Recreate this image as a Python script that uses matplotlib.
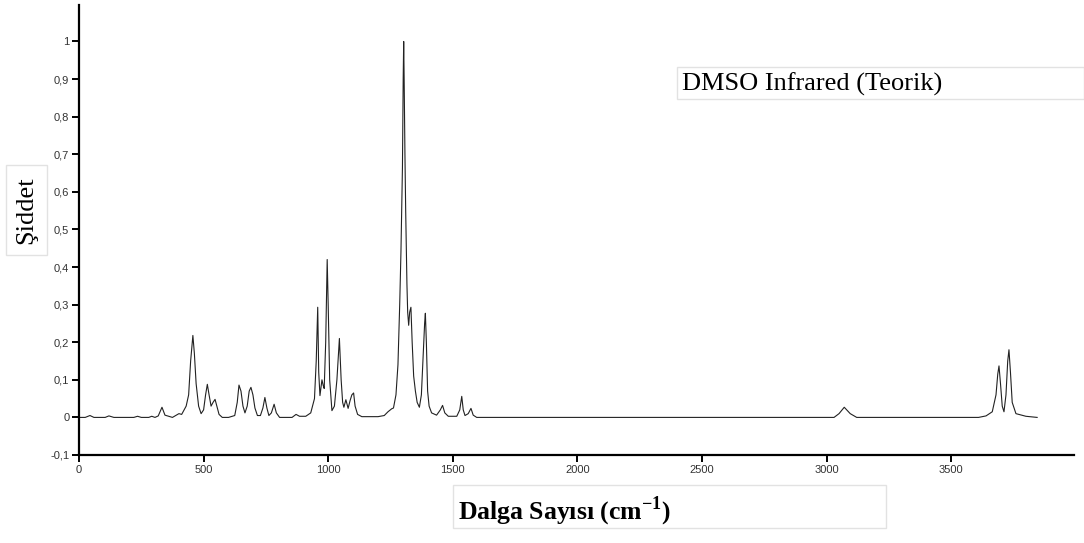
import matplotlib.pyplot as plt
from matplotlib.patches import Rectangle

plt.rcParams['mathtext.fontset'] = 'custom'
plt.rcParams['mathtext.rm'] = 'Liberation Serif'
plt.rcParams['mathtext.bf'] = 'Liberation Serif:bold'

# spectrum vertices (cm-1, relative intensity)
wavenumber = [0, 25, 44, 60, 105, 120, 140, 220, 235, 250, 280, 292, 305, 318, 333, 345,
              375, 401, 412, 430, 440, 448, 457, 463, 470, 480, 490, 500, 508, 515, 522,
              530, 538, 546, 553, 562, 575, 600, 625, 635, 642, 650, 658, 666, 675, 683,
              690, 698, 706, 716, 728, 738, 746, 754, 762, 772, 783, 792, 805, 855, 871,
              885, 910, 930, 945, 952, 958, 962, 967, 975, 980, 984, 990, 996, 1000, 1006,
              1015, 1025, 1035, 1045, 1052, 1058, 1063, 1071, 1080, 1088, 1095, 1102, 1108,
              1118, 1135, 1200, 1225, 1240, 1255, 1262, 1272, 1280, 1287, 1292, 1298, 1301,
              1303, 1305, 1308, 1311, 1316, 1319, 1323, 1327, 1332, 1337, 1343, 1350, 1357,
              1366, 1374, 1382, 1387, 1390, 1394, 1399, 1405, 1415, 1435, 1450, 1459, 1468,
              1482, 1516, 1528, 1536, 1542, 1549, 1562, 1573, 1582, 1596, 3030, 3050, 3071,
              3095, 3121, 3610, 3640, 3665, 3680, 3687, 3692, 3698, 3705, 3712, 3720, 3727,
              3732, 3738, 3745, 3760, 3800, 3845]
intensity = [0.0, 0.0, 0.005, 0.0, 0.0, 0.004, 0.0, 0.0, 0.003, 0.0, 0.0, 0.003, 0.0, 0.004,
             0.027, 0.006, 0.0, 0.01, 0.008, 0.03, 0.06, 0.15, 0.218, 0.17, 0.09, 0.03, 0.01,
             0.02, 0.06, 0.088, 0.06, 0.03, 0.04, 0.048, 0.03, 0.008, 0.0, 0.0, 0.005, 0.04,
             0.086, 0.07, 0.03, 0.012, 0.03, 0.07, 0.08, 0.06, 0.025, 0.005, 0.005, 0.025,
             0.053, 0.025, 0.005, 0.012, 0.035, 0.012, 0.0, 0.0, 0.008, 0.003, 0.003, 0.012,
             0.05, 0.15, 0.293, 0.12, 0.058, 0.1, 0.085, 0.077, 0.2, 0.42, 0.3, 0.1, 0.018,
             0.03, 0.1, 0.21, 0.1, 0.04, 0.027, 0.047, 0.024, 0.045, 0.06, 0.065, 0.03, 0.008,
             0.002, 0.002, 0.005, 0.015, 0.023, 0.025, 0.06, 0.14, 0.3, 0.44, 0.665, 0.9, 1.0,
             0.89, 0.7, 0.55, 0.355, 0.28, 0.245, 0.28, 0.293, 0.2, 0.11, 0.07, 0.04, 0.027,
             0.06, 0.18, 0.25, 0.277, 0.2, 0.07, 0.03, 0.012, 0.006, 0.02, 0.032, 0.012, 0.003,
             0.003, 0.02, 0.056, 0.02, 0.005, 0.01, 0.024, 0.006, 0.0, 0.0, 0.01, 0.027, 0.01,
             0.0, 0.0, 0.004, 0.015, 0.06, 0.115, 0.137, 0.09, 0.03, 0.015, 0.06, 0.15, 0.18,
             0.12, 0.04, 0.01, 0.003, 0.0]

x_ticks = [0, 500, 1000, 1500, 2000, 2500, 3000, 3500]
y_ticks = [-0.1, 0, 0.1, 0.2, 0.3, 0.4, 0.5, 0.6, 0.7, 0.8, 0.9, 1]
y_tick_labels = ['-0,1', '0', '0,1', '0,2', '0,3', '0,4', '0,5', '0,6', '0,7', '0,8', '0,9', '1']

W, H = 1084, 543


def add_box(fig, x0, y0, x1, y1):
    # light grey frame given in pixels, top-left origin
    fig.patches.append(Rectangle((x0 / W, 1 - y1 / H), (x1 - x0) / W, (y1 - y0) / H,
                                 transform=fig.transFigure, fill=False,
                                 ec='#e2e2e2', lw=1))


fig = plt.figure(figsize=(W / 100, H / 100), dpi=100)
ax = fig.add_axes([79 / W, 1 - 455 / H, (1074 - 79) / W, (455 - 5) / H])

ax.plot(wavenumber, intensity, color='#222222', lw=0.8)

ax.set_xlim(0, 3993)
ax.set_ylim(-0.1, 1.097)
ax.set_xticks(x_ticks)
ax.set_yticks(y_ticks)
ax.set_yticklabels(y_tick_labels)

for side in ['top', 'right']:
    ax.spines[side].set_visible(False)
for side in ['left', 'bottom']:
    ax.spines[side].set_linewidth(1.6)
ax.tick_params(direction='out', length=5, width=1.4, labelsize=8,
               labelcolor='#333333', pad=2, labelfontfamily='Liberation Sans')

serif = 'Liberation Serif'

add_box(fig, 677, 67, 1084, 99)
fig.text(682 / W, 1 - 84 / H, 'DMSO Infrared (Teorik)', family=serif, fontsize=19,
         va='center', ha='left')

add_box(fig, 6, 165, 47, 255)
fig.text(26 / W, 1 - 210 / H, 'Şiddet', family=serif, fontsize=19, rotation=90,
         va='center', ha='center')

add_box(fig, 453, 485, 886, 528)
fig.text(458 / W, 1 - 511 / H, r'Dalga Sayısı (cm$^{\mathbf{-1}}$)', family=serif,
         fontsize=18.5, fontweight='bold', va='center', ha='left')

fig.savefig('out.png', dpi=100)
